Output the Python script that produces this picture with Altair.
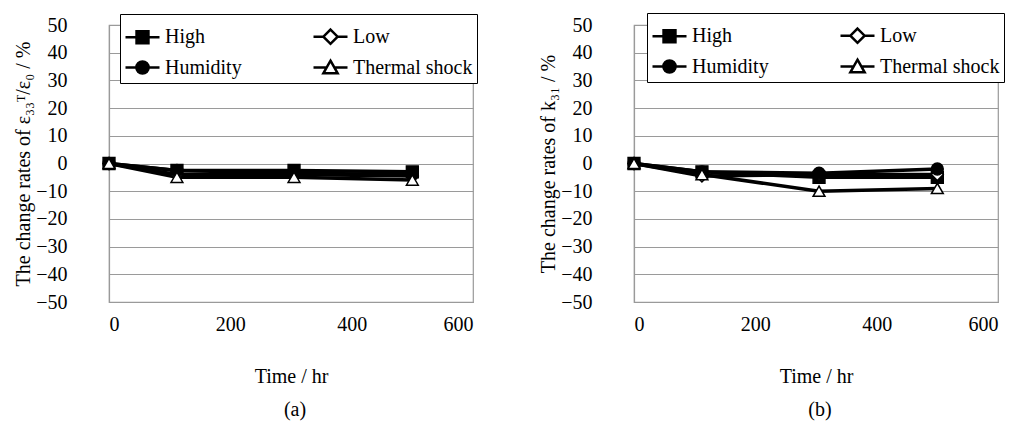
import altair as alt
import pandas as pd

times = [0, 112, 305, 500]
series = ["High", "Low", "Humidity", "Thermal shock"]
shapes = ["square", "diamond", "circle", "triangle-up"]
fills = ["black", "white", "black", "white"]

a_high = [0, -2.5, -2.5, -3]
a_low = [0, -4, -4, -4.5]
a_hum = [0, -2.5, -3.5, -4]
a_thermal = [0, -5, -5, -6]

b_high = [0, -3, -5, -5]
b_low = [0, -4.5, -4, -4]
b_hum = [0, -3, -3.5, -2]
b_thermal = [0, -4, -10, -9]

x_ticks = [0, 200, 400, 600]
y_ticks = [-50, -40, -30, -20, -10, 0, 10, 20, 30, 40, 50]

legend_paths = [
    "M-1,0H-0.35M0.35,0H1M-0.35,-0.35H0.35V0.35H-0.35Z",
    "M-1,0H-0.42M0.42,0H1M0,-0.42L0.42,0L0,0.42L-0.42,0Z",
    "M-1,0H-0.36M0.36,0H1M-0.36,0A0.36,0.36 0 1,0 0.36,0A0.36,0.36 0 1,0 -0.36,0Z",
    "M-1,0H-0.22M0.22,0H1M0,-0.4L0.42,0.34H-0.42Z",
]

FONT = "'Liberation Serif', 'Times New Roman', 'DejaVu Serif', serif"


def panel(vals, ytitle, caption, lx, ly):
    rows = []
    for s, v in zip(series, vals):
        for t, y in zip(times, v):
            rows.append({"Time": t, "Value": y, "Series": s})
    df = pd.DataFrame(rows)
    base = alt.Chart(df)
    x = alt.X(
        "Time:Q",
        scale=alt.Scale(domain=[0, 600], nice=False),
        axis=alt.Axis(values=x_ticks, title="Time / hr", grid=False, ticks=False,
                      labelPadding=12, titlePadding=32),
    )
    y = alt.Y(
        "Value:Q",
        scale=alt.Scale(domain=[-50, 50], nice=False),
        axis=alt.Axis(values=y_ticks, title=ytitle, grid=True, ticks=False,
                      labelPadding=42, titlePadding=2),
    )
    lines = base.mark_line(color="black", strokeWidth=3.5).encode(
        x=x, y=y, detail="Series:N"
    )
    pts = []
    for s, shp, fl in zip(series, shapes, fills):
        pts.append(
            base.transform_filter(alt.datum.Series == s)
            .mark_point(shape=shp, filled=True, fill=fl, stroke="black",
                        strokeWidth=1.5, size=140, opacity=1)
            .encode(x=x, y=y)
        )
    leg_params = dict(
        title=None, orient="none", legendX=lx, legendY=ly, columns=2,
        direction="horizontal",
        columnPadding=66, rowPadding=0, symbolSize=1156, symbolStrokeWidth=2.5,
        symbolStrokeColor="black", symbolOpacity=1, labelOffset=4, labelFont=FONT,
        labelFontSize=20, labelColor="black", strokeColor="black",
        fillColor="white", padding=4, symbolLimit=0,
    )
    leg = base.mark_point(size=0, filled=True, opacity=1, strokeWidth=2.5).encode(
        x=x, y=y,
        shape=alt.Shape("Series:N", scale=alt.Scale(domain=series, range=legend_paths),
                        legend=alt.Legend(**leg_params)),
        fill=alt.Fill("Series:N", scale=alt.Scale(domain=series, range=fills),
                      legend=alt.Legend(**leg_params)),
        stroke=alt.Stroke("Series:N",
                          scale=alt.Scale(domain=series, range=["black"] * 4),
                          legend=alt.Legend(**leg_params)),
    )
    return alt.layer(lines, *pts, leg).properties(
        width=364, height=277,
        title=alt.TitleParams(caption, orient="bottom", font=FONT, fontSize=20,
                              fontWeight="normal", color="black", offset=14,
                              frame="group", dx=4),
    )


pa = panel([a_high, a_low, a_hum, a_thermal],
           "The change rates of ε₃₃ᵀ/ε₀ / %", "(a)", 11, -11)
pb = panel([b_high, b_low, b_hum, b_thermal],
           "The change rates of k₃₁ / %", "(b)", 13, -12)

chart = alt.hconcat(pa, pb, spacing=59).resolve_scale(
    shape="independent", fill="independent", stroke="independent"
).resolve_legend(
    shape="independent", fill="independent", stroke="independent"
).properties(
    padding={"left": 5, "top": 3, "right": 0, "bottom": 0}
).configure_view(stroke="#9a9a9a", strokeWidth=1.2).configure_axis(
    labelFont=FONT, labelFontSize=20, labelColor="black",
    titleFont=FONT, titleFontSize=20, titleFontWeight="normal", titleColor="black",
    domainColor="#9a9a9a", domainWidth=1.2, gridColor="#9a9a9a", gridWidth=1.2,
)

chart.save("out.html", embed_options={"renderer": "svg", "actions": False})
